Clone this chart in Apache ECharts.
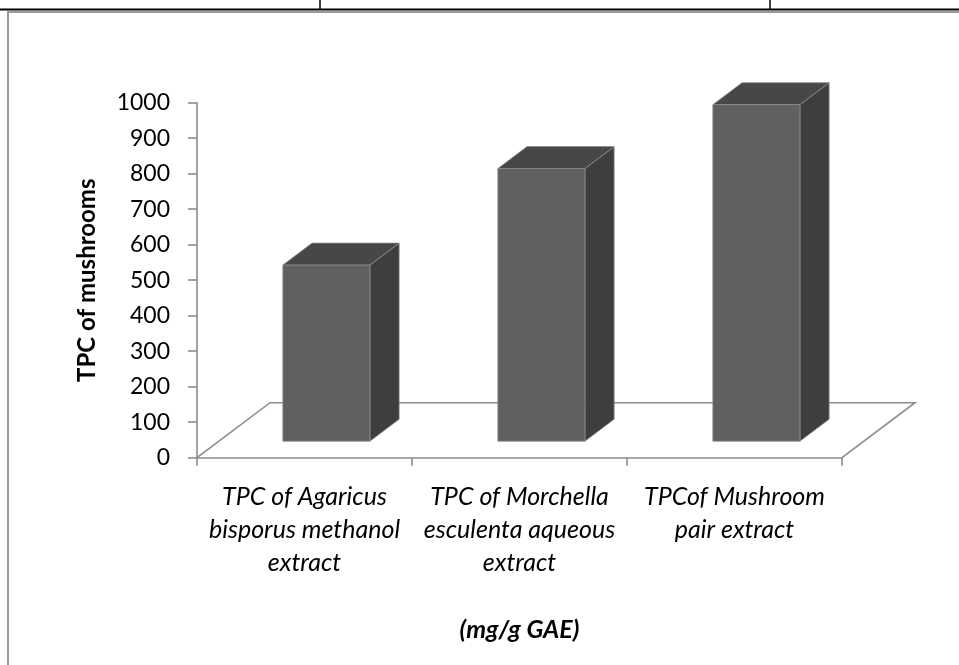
<!DOCTYPE html>
<html><head><meta charset="utf-8">
<script src="https://cdn.jsdelivr.net/npm/echarts@6/dist/echarts.min.js"></script>
<style>html,body{margin:0;padding:0;background:#fff;}#c{width:959px;height:665px;}</style>
</head><body><div id="c"></div>
<script>
// ---- data ----
const categories = ['TPC of Agaricus\nbisporus methanol\nextract', 'TPC of Morchella\nesculenta aqueous\nextract', 'TPCof Mushroom\npair extract'];
const values = [496, 768, 948];
const yMin = 0, yMax = 1000, yInterval = 100;
const yAxisTitle = 'TPC of mushrooms';
const xAxisTitle = '(mg/g GAE)';

// ---- 3D look (pixels / fractions) ----
const FLOOR_DX = 73, FLOOR_DY = -55;
const BAR_FRONT = 0.3, BAR_BACK = 0.7;
const BAR_WIDTH = 0.405;
const FONT = 'Lato, "Open Sans", sans-serif';
const AXIS_COLOR = '#8c8c8c';

function renderFloor(params, api) {
  const cs = params.coordSys;
  const xl = cs.x, xr = cs.x + cs.width, yb = cs.y + cs.height;
  return {
    type: 'polyline',
    shape: { points: [[xl, yb], [xl + FLOOR_DX, yb + FLOOR_DY], [xr + FLOOR_DX, yb + FLOOR_DY], [xr, yb]] },
    style: { stroke: AXIS_COLOR, lineWidth: 1.6, fill: null },
    silent: true
  };
}

function renderBar(params, api) {
  const cat = api.value(0), v = api.value(1);
  const top = api.coord([cat, v]);
  const base = api.coord([cat, 0]);
  const bw = api.size([1, 0])[0] * BAR_WIDTH;
  const fx = FLOOR_DX * BAR_FRONT, fy = FLOOR_DY * BAR_FRONT;
  const ddx = FLOOR_DX * (BAR_BACK - BAR_FRONT), ddy = FLOOR_DY * (BAR_BACK - BAR_FRONT);
  const x0 = base[0] - bw / 2 + fx, x1 = base[0] + bw / 2 + fx;
  const y0 = base[1] + fy, y1 = top[1] + fy;
  const edge = { stroke: '#8a8a8a', lineWidth: 0.8 };
  return {
    type: 'group',
    children: [
      { type: 'polygon', shape: { points: [[x1, y1], [x1 + ddx, y1 + ddy], [x1 + ddx, y0 + ddy], [x1, y0]] },
        style: Object.assign({ fill: '#3e3e3e' }, edge) },
      { type: 'polygon', shape: { points: [[x0, y1], [x1, y1], [x1 + ddx, y1 + ddy], [x0 + ddx, y1 + ddy]] },
        style: Object.assign({ fill: '#474747' }, edge) },
      { type: 'rect', shape: { x: x0, y: y1, width: x1 - x0, height: y0 - y1 },
        style: Object.assign({ fill: '#606060' }, edge) }
    ]
  };
}

const chart = echarts.init(document.getElementById('c'), null, { renderer: 'canvas' });
chart.setOption({
  animation: false,
  backgroundColor: '#fff',
  grid: { left: 197, right: 117, top: 102.7, bottom: 207.3, containLabel: false },
  xAxis: {
    type: 'category',
    data: categories,
    boundaryGap: true,
    axisLine: { show: true, lineStyle: { color: AXIS_COLOR, width: 1.6 } },
    axisTick: { show: true, length: 8, alignWithLabel: false, lineStyle: { color: AXIS_COLOR, width: 1.6 } },
    axisLabel: { interval: 0, margin: 23, color: '#000', fontFamily: FONT, fontStyle: 'italic', fontSize: 25, lineHeight: 33, align: 'center' },
    name: xAxisTitle,
    nameLocation: 'middle',
    nameGap: 160,
    nameTextStyle: { color: '#000', fontFamily: FONT, fontStyle: 'italic', fontWeight: 'bold', fontSize: 25 },
    splitLine: { show: false }
  },
  yAxis: {
    type: 'value',
    min: yMin, max: yMax, interval: yInterval,
    axisLine: { show: true, lineStyle: { color: AXIS_COLOR, width: 1.6 } },
    axisTick: { show: true, length: 9, lineStyle: { color: AXIS_COLOR, width: 1.6 } },
    axisLabel: { margin: 27, color: '#000', fontFamily: FONT, fontSize: 23, formatter: v => String(v) },
    splitLine: { show: false },
    name: yAxisTitle,
    nameLocation: 'middle',
    nameGap: 98,
    nameRotate: 90,
    nameTextStyle: { color: '#000', fontFamily: FONT, fontWeight: 'bold', fontSize: 24 }
  },
  series: [
    { type: 'custom', renderItem: renderFloor, data: [[0, 0]], z: 1, silent: true, clip: false },
    { type: 'custom', renderItem: renderBar, data: values.map((v, i) => [i, v]), z: 3, clip: false,
      encode: { x: 0, y: 1 } }
  ],
  graphic: [
    { type: 'line', shape: { x1: 0, y1: 9.5, x2: 959, y2: 9.5 }, style: { stroke: '#000', lineWidth: 2 }, silent: true },
    { type: 'line', shape: { x1: 320, y1: 0, x2: 320, y2: 9 }, style: { stroke: '#000', lineWidth: 1.5 }, silent: true },
    { type: 'line', shape: { x1: 770, y1: 0, x2: 770, y2: 9 }, style: { stroke: '#000', lineWidth: 1.5 }, silent: true },
    { type: 'line', shape: { x1: 8, y1: 12, x2: 959, y2: 12 }, style: { stroke: '#9a9a9a', lineWidth: 2 }, silent: true },
    { type: 'line', shape: { x1: 8, y1: 11, x2: 8, y2: 665 }, style: { stroke: '#9a9a9a', lineWidth: 2 }, silent: true }
  ]
});
</script>
</body></html>
